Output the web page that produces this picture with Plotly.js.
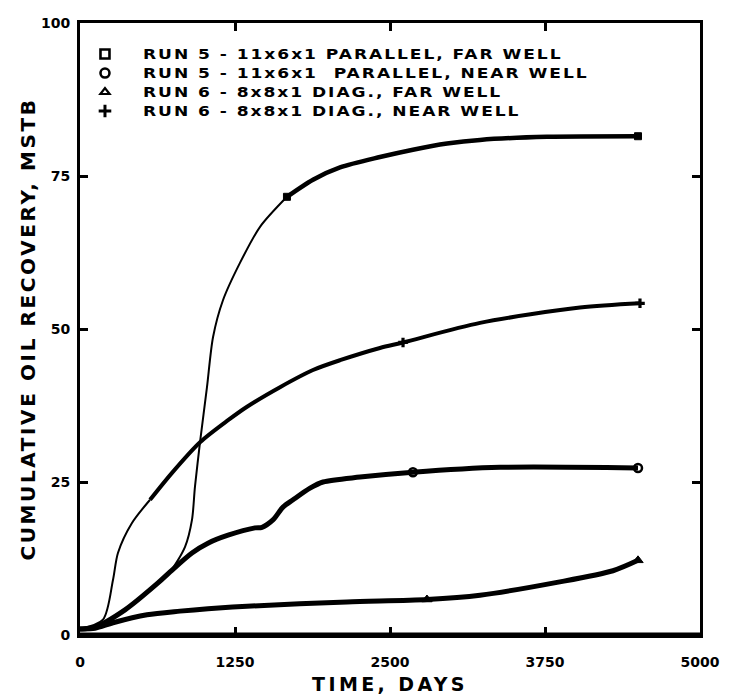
<!DOCTYPE html>
<html>
<head>
<meta charset="utf-8">
<script src="https://cdn.plot.ly/plotly-3.0.1.min.js"></script>
<style>
html,body{margin:0;padding:0;background:#fff;}
#chart{width:729px;height:695px;}
.legendtext{letter-spacing:1.6px;font-size:14px !important;transform-box:fill-box;transform-origin:0 50%;transform:scaleX(1.22);}
.xtitle{letter-spacing:3.4px;}
.ytitle{letter-spacing:2.6px;}
</style>
</head>
<body>
<div id="chart"></div>
<script>
// ---- data (time in days, cumulative oil recovery in MSTB) ----
const xTickVals = [0, 1250, 2500, 3750, 5000];
const xTickText = ["0", "1250", "2500", "3750", "5000"];
const yTickVals = [0, 25, 50, 75, 100];
const yTickText = ["0", "25", "50", "75", "100"];

const seriesNames = [
  "RUN 5 - 11x6x1 PARALLEL, FAR WELL",
  "RUN 5 - 11x6x1\u00a0 PARALLEL, NEAR WELL",
  "RUN 6 - 8x8x1 DIAG., FAR WELL",
  "RUN 6 - 8x8x1 DIAG., NEAR WELL"
];

// Run 5, far well (square)
const run5FarDays = [0, 121, 363, 629, 726, 847, 903, 927, 968, 1024, 1073, 1153, 1290, 1452, 1669, 1879, 2097, 2419, 2685, 2960, 3226, 3766, 4500];
const run5FarOil  = [1.0, 1.3, 4.1, 8.5, 10.3, 14.4, 18.8, 24.2, 31.5, 40.5, 48.7, 54.7, 60.8, 66.7, 71.6, 74.4, 76.4, 78.1, 79.3, 80.3, 80.9, 81.4, 81.5];
const run5FarMarkDays = [1669, 4500];
const run5FarMarkOil  = [71.6, 81.5];

// Run 5, near well (circle)
const run5NearDays = [0, 121, 363, 629, 726, 903, 1032, 1194, 1411, 1468, 1556, 1637, 1718, 1855, 1960, 2258, 2685, 3387, 4500];
const run5NearOil  = [1.0, 1.3, 4.1, 8.5, 10.3, 13.4, 15.0, 16.3, 17.5, 17.6, 18.8, 20.9, 22.1, 24.0, 25.0, 25.8, 26.6, 27.4, 27.3];
const run5NearMarkDays = [2685, 4500];
const run5NearMarkOil  = [26.6, 27.3];

// Run 6, far well (triangle)
const run6FarDays = [0, 121, 266, 540, 806, 1032, 1347, 2153, 2798, 3226, 3847, 4298, 4500];
const run6FarOil  = [1.0, 1.1, 2.0, 3.3, 3.9, 4.3, 4.7, 5.4, 5.8, 6.5, 8.6, 10.5, 12.2];
const run6FarMarkDays = [2798, 4500];
const run6FarMarkOil  = [5.8, 12.2];

// Run 6, near well (plus)
const run6NearDays = [0, 185, 266, 306, 419, 565, 742, 968, 1194, 1347, 1613, 1879, 2097, 2419, 2605, 3226, 4032, 4516];
const run6NearOil  = [1.0, 2.5, 9.0, 13.4, 18.3, 22.1, 26.5, 31.5, 35.1, 37.3, 40.5, 43.3, 44.9, 46.9, 47.8, 51.0, 53.5, 54.2];
const run6NearMarkDays = [2605, 4516];
const run6NearMarkOil  = [47.8, 54.2];

// ---- traces ----
const INK = "#000";
function seg(x, y, from, to, width) {
  return {
    x: x.slice(from, to), y: y.slice(from, to), mode: "lines", type: "scatter",
    line: {color: INK, width: width, shape: "spline", smoothing: 0.8},
    showlegend: false, hoverinfo: "skip"
  };
}
function marks(x, y, symbol, size, lw) {
  return {
    x: x, y: y, mode: "markers", type: "scatter", showlegend: false, hoverinfo: "skip",
    marker: {symbol: symbol, size: size, color: INK, line: {color: INK, width: lw}}
  };
}
function legendItem(name, symbol, size, lw) {
  return {
    x: [null], y: [null], mode: "markers", type: "scatter", name: name,
    marker: {symbol: symbol, size: size, color: INK, line: {color: INK, width: lw}}
  };
}

const i5f = run5FarDays.indexOf(1669);
const i6n = run6NearDays.indexOf(565);

const traces = [
  seg(run5FarDays, run5FarOil, 0, i5f + 1, 2),
  seg(run5FarDays, run5FarOil, i5f, run5FarDays.length, 4.5),
  seg(run6NearDays, run6NearOil, 0, i6n + 1, 2),
  seg(run6NearDays, run6NearOil, i6n, run6NearDays.length, 4),
  seg(run5NearDays, run5NearOil, 0, run5NearDays.length, 5),
  seg(run6FarDays, run6FarOil, 0, run6FarDays.length, 5),
  marks(run5FarMarkDays, run5FarMarkOil, "square", 7, 1),
  marks(run6NearMarkDays, run6NearMarkOil, "cross", 8, 0),
  marks(run5NearMarkDays, run5NearMarkOil, "circle-open", 8, 2.5),
  marks(run6FarMarkDays, run6FarMarkOil, "triangle-up", 9, 1),
  legendItem(seriesNames[0], "square-open", 9, 2.6),
  legendItem(seriesNames[1], "circle-open", 9, 2.6),
  legendItem(seriesNames[2], "triangle-up-open", 8, 2.2),
  legendItem(seriesNames[3], "cross-thin-open", 9, 3)
];

const FONT = "DejaVu Sans, Arial, sans-serif";

const axisBase = {
  showline: true, linecolor: INK, linewidth: 3, mirror: "ticks",
  ticks: "inside", ticklen: 8, tickwidth: 3, tickcolor: INK,
  showgrid: false, zeroline: false, fixedrange: true,
  tickfont: {family: FONT, size: 14, color: INK, weight: "bold"}
};

const layout = {
  width: 729, height: 695,
  margin: {l: 80, r: 29, t: 23, b: 60},
  paper_bgcolor: "#fff", plot_bgcolor: "#fff",
  showlegend: true,
  legend: {
    x: -0.021, y: 0.973, xanchor: "left", yanchor: "top",
    bgcolor: "rgba(0,0,0,0)", borderwidth: 0, itemwidth: 66,
    font: {family: FONT, size: 11.5, color: INK, weight: "bold"},
    tracegroupgap: 0
  },
  xaxis: Object.assign({}, axisBase, {
    range: [0, 5000], tickvals: xTickVals, ticktext: xTickText,
    ticklabelstandoff: 12,
    title: {text: "TIME, DAYS", standoff: 9,
            font: {family: FONT, size: 19, color: INK, weight: "bold"}}
  }),
  yaxis: Object.assign({}, axisBase, {
    range: [0, 100], tickvals: yTickVals, ticktext: yTickText,
    ticklabelstandoff: 4,
    title: {text: "CUMULATIVE OIL RECOVERY, MSTB", standoff: 0,
            font: {family: FONT, size: 20, color: INK, weight: "bold"}}
  }),
  shapes: [
    {type: "line", xref: "paper", yref: "paper", x0: 0, x1: 1, y0: 0, y1: 0,
     line: {color: INK, width: 5}}
  ]
};

Plotly.newPlot("chart", traces, layout, {staticPlot: true, displayModeBar: false});
</script>
</body>
</html>
